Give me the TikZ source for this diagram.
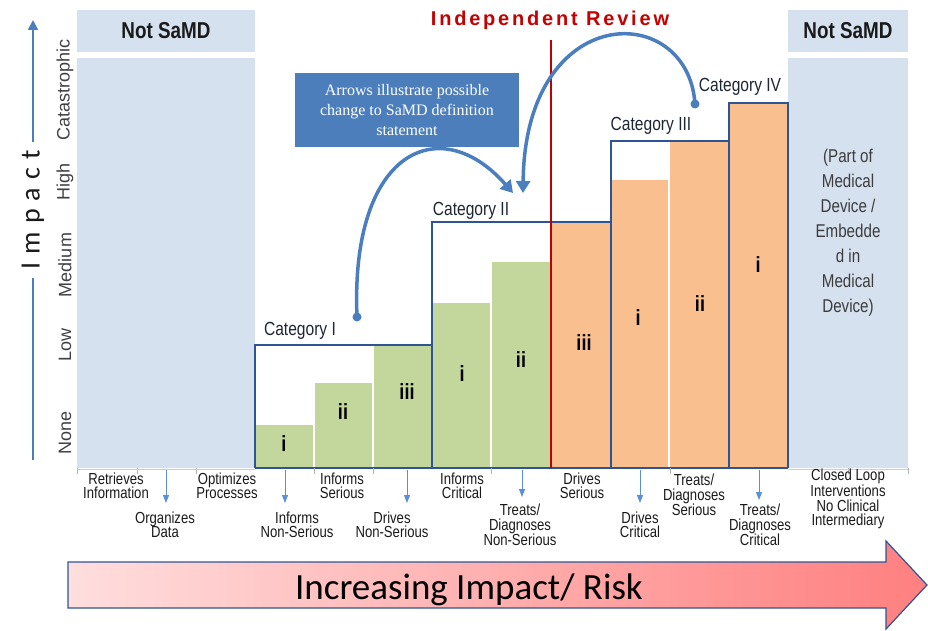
\documentclass[tikz,border=0pt]{standalone}
\usepackage{fontspec}
\setmainfont{Liberation Sans}
\newfontfamily\fNar{Liberation Sans}[FakeStretch=0.82]
\newfontfamily\fSer{Liberation Serif}
\newfontfamily\fCarl{Carlito}
\newfontfamily\fSpc{Liberation Sans}[LetterSpace=14]
\newfontfamily\fImp{Carlito}[LetterSpace=6]
\usetikzlibrary{arrows.meta}
\definecolor{colblue}{HTML}{D6E1EF}
\definecolor{navy}{HTML}{2F5496}
\definecolor{grn}{HTML}{C3D69B}
\definecolor{org}{HTML}{F9BF8F}
\definecolor{redl}{HTML}{C00000}
\definecolor{callblue}{HTML}{4B7EBB}
\definecolor{arcblue}{HTML}{4A7EBF}
\definecolor{smallar}{HTML}{5B8FD6}
\definecolor{txt}{HTML}{1A1A1A}
\definecolor{gtxt}{HTML}{404040}
\definecolor{pinkL}{HTML}{FFDEDE}
\definecolor{pinkR}{HTML}{FF7F7F}
\begin{document}
\begin{tikzpicture}[x=1pt,y=-1pt,
  colfill/.style={fill=colblue},
  nsh/.style={font=\fNar\bfseries\fontsize{23}{23}\selectfont, text=txt},
  box/.style={draw=navy, line width=1.6pt},
  catl/.style={font=\fNar\fontsize{19}{19}\selectfont, text=txt!80!navy},
  rom/.style={font=\fNar\bfseries\fontsize{22}{22}\selectfont, text=black},
  ylab/.style={rotate=90, font=\fontsize{18}{18}\selectfont, text=gtxt},
  blab/.style={font=\fNar\fontsize{16}{14.5}\selectfont, align=center, text=txt, inner sep=0pt},
  darr/.style={draw=smallar, line width=1pt, -{Triangle[width=6pt,length=8pt]}},
  curvar/.style={draw=arcblue, line width=3.5pt, -{Triangle[width=14pt,length=12pt]}},
  tick/.style={draw=gray!60, line width=0.6pt}
]
\useasboundingbox (0,0) rectangle (928,631);

% Not SaMD columns
\fill[colfill] (77,10) rectangle (255,52);
\fill[colfill] (77,58) rectangle (255,468);
\fill[colfill] (788,10) rectangle (908,52);
\fill[colfill] (788,58) rectangle (908,468);
\node[nsh] (ns1) at (166,31) {Not SaMD};
\node[nsh] (ns2) at (848,31) {Not SaMD};
\node[font=\fNar\fontsize{18.5}{25}\selectfont, align=center, text=txt!85] (embed) at (848,233)
  {(Part of\\Medical\\Device /\\Embedde\\d in\\Medical\\Device)};

% green bars
\fill[grn] (256,425) rectangle (313,468);
\fill[grn] (315,383) rectangle (372,468);
\fill[grn] (374,345) rectangle (432,468);
\fill[grn] (433,303) rectangle (490,468);
\fill[grn] (492,262) rectangle (551,468);
% orange bars
\fill[org] (551,222) rectangle (611,468);
\fill[org] (611,180) rectangle (668,468);
\fill[org] (670,142) rectangle (729,468);
\fill[org] (729,103) rectangle (788,468);

% category outlines
\draw[box] (255,468) -- (255,345) -- (432,345);
\draw[box] (432,468) -- (432,222) -- (611,222) -- (611,141) -- (729,141) -- (729,103) -- (788,103) -- (788,468);
\draw[box] (611,222) -- (611,468);
\draw[box] (729,141) -- (729,468);
\draw[box] (255,468) -- (788,468);

% independent review
\draw[redl, line width=2pt] (551,40) -- (551,468);
\node[font=\fSpc\bfseries\fontsize{20}{20}\selectfont, text=redl!90!red] (ir) at (550,20) {Independent Review};

% ticks
\foreach \tx in {77,137,196,314,373,491,670,848,908}
  \draw[tick] (\tx,468) -- (\tx,474);
\draw[gray!40, line width=0.5pt] (77,469) -- (255,469);
\draw[gray!40, line width=0.5pt] (788,469) -- (908,469);

% category labels
\node[catl] (c1) at (300,331) {Category I};
\node[catl] (c2) at (471,211) {Category II};
\node[catl] (c3) at (651,126) {Category III};
\node[catl] (c4) at (740,87) {Category IV};

% roman numerals
\node[rom] (r1) at (284,444) {i};
\node[rom] (r2) at (343,412) {ii};
\node[rom] (r3) at (407,392) {iii};
\node[rom] (r4) at (462,374) {i};
\node[rom] (r5) at (521,360) {ii};
\node[rom] (r6) at (584,343) {iii};
\node[rom] (r7) at (638,318) {i};
\node[rom] (r8) at (700,304) {ii};
\node[rom] (r9) at (758,265) {i};

% y axis labels
\node[ylab] (yc) at (65,90) {Catastrophic};
\node[ylab] (yh) at (65,182) {High};
\node[ylab] (ym) at (65,265) {Medium};
\node[ylab] (yl) at (65,345) {Low};
\node[ylab] (yn) at (65,433) {None};

% Impact axis
\node[rotate=90, font=\fImp\fontsize{28}{28}\selectfont, text=txt, inner sep=8pt] (imp) at (33,210) {I m p a c t};
\coordinate (impbot) at (33,460);
\coordinate (imptop) at (33,20);
\draw[arcblue, line width=2pt] (impbot) -- (imp.west);
\draw[arcblue, line width=2pt, -{Triangle[width=10pt,length=10pt]}] (imp.east) -- (imptop);

% callout
\node[fill=callblue, minimum width=224pt, minimum height=74pt, align=center,
      font=\fSer\fontsize{16}{20}\selectfont, text=white] (note) at (407,110)
  {Arrows illustrate possible\\change to SaMD definition\\statement};

% curved arrows
\coordinate (a1s) at (357,317);
\coordinate (a1e) at (513,193);
\coordinate (a2s) at (695,104);
\coordinate (a2e) at (523,193);
\fill[arcblue] (a1s) circle (4.5);
\fill[arcblue] (a2s) circle (4.5);
\draw[curvar] (a1s) .. controls (350,150) and (440,110) .. (a1e);
\draw[curvar] (a2s) .. controls (688,0) and (525,0) .. (a2e);

% bottom labels
\node[blab] (l1) at (116,486) {Retrieves\\Information};
\node[blab] (l2) at (165,525) {Organizes\\Data};
\node[blab] (l3) at (227,486) {Optimizes\\Processes};
\node[blab] (l4) at (297,525) {Informs\\Non-Serious};
\node[blab] (l5) at (342,486) {Informs\\Serious};
\node[blab] (l6) at (392,525) {Drives\\Non-Serious};
\node[blab] (l7) at (462,486) {Informs\\Critical};
\node[blab] (l8) at (520,525) {Treats/\\Diagnoses\\Non-Serious};
\node[blab] (l9) at (582,486) {Drives\\Serious};
\node[blab] (l10) at (640,525) {Drives\\Critical};
\node[blab] (l11) at (694,495) {Treats/\\Diagnoses\\Serious};
\node[blab] (l12) at (760,525) {Treats/\\Diagnoses\\Critical};
\node[blab] (l13) at (848,499) {Closed Loop\\Interventions\\No Clinical\\Intermediary};

% small down arrows
\coordinate (d2a) at (166,470); \coordinate (d2b) at (166,503);
\coordinate (d4a) at (285,470); \coordinate (d4b) at (285,503);
\coordinate (d6a) at (407,470); \coordinate (d6b) at (407,503);
\coordinate (d8a) at (522,470); \coordinate (d8b) at (522,497);
\coordinate (d10a) at (640,470); \coordinate (d10b) at (640,503);
\coordinate (d12a) at (759,470); \coordinate (d12b) at (759,500);
\draw[darr] (d2a) -- (d2b);
\draw[darr] (d4a) -- (d4b);
\draw[darr] (d6a) -- (d6b);
\draw[darr] (d8a) -- (d8b);
\draw[darr] (d10a) -- (d10b);
\draw[darr] (d12a) -- (d12b);

% big bottom arrow
\path[draw=navy, line width=1.2pt, left color=pinkL, right color=pinkR]
  (68,562) -- (886,562) -- (886,541) -- (927,585) -- (886,629) -- (886,608) -- (68,608) -- cycle;
\node[font=\fCarl\fontsize{37}{37}\selectfont, text=black] (risk) at (469,590) {Increasing Impact/ Risk};
\end{tikzpicture}
\end{document}
